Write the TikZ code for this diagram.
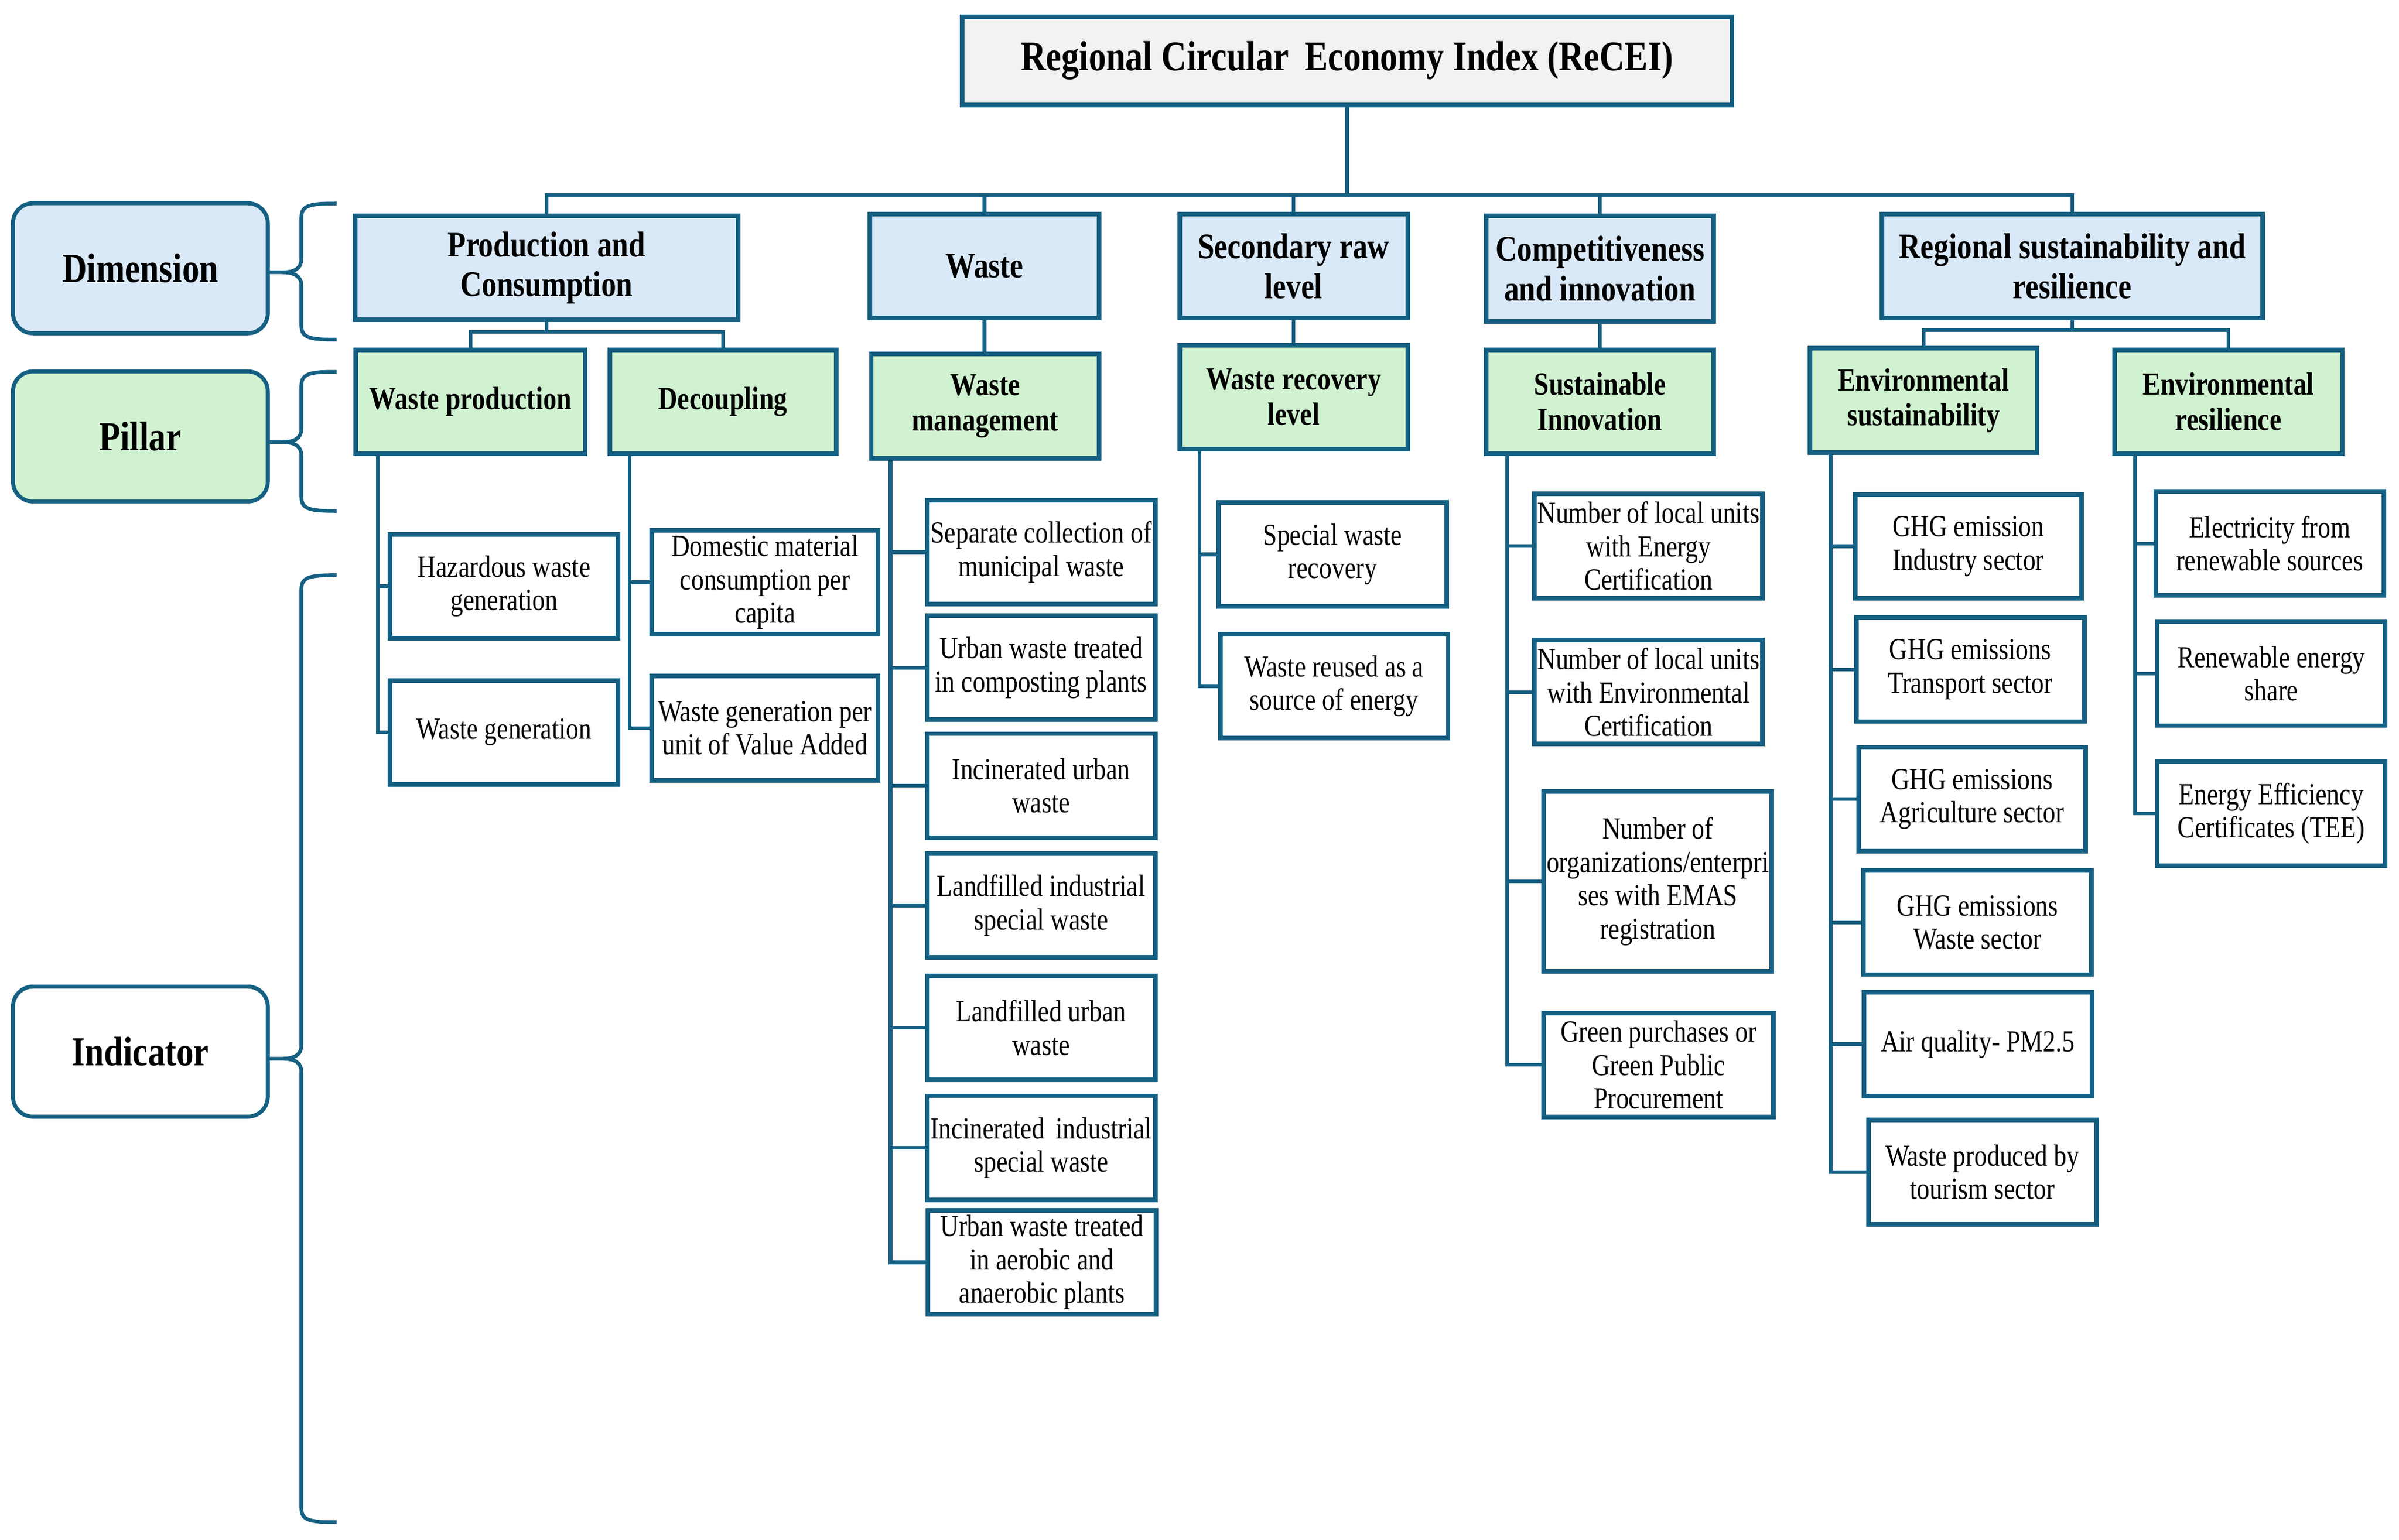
\documentclass[tikz,border=0pt]{standalone}
\usepackage{fontspec}
\setmainfont{Liberation Serif}[FakeStretch=0.83]
\definecolor{bd}{HTML}{156082}
\definecolor{dimfill}{HTML}{DAE9F8}
\definecolor{pilfill}{HTML}{D0F2D0}
\definecolor{titfill}{HTML}{F2F2F2}
\tikzset{
 base/.style={draw=bd, line width=3pt, inner sep=1pt, align=center, text=black},
 titlebox/.style={base, fill=titfill, font=\fontsize{27.5}{30}\selectfont\bfseries},
 dimbox/.style={base, fill=dimfill, font=\fontsize{23.5}{26}\selectfont\bfseries},
 pilbox/.style={base, fill=pilfill, font=\fontsize{21}{23}\selectfont\bfseries},
 indbox/.style={base, fill=white, minimum width=149pt, minimum height=68pt, font=\fontsize{20}{21.8}\selectfont},
 lblbox/.style={draw=bd, line width=2.6pt, rounded corners=13pt, align=center, minimum width=166.5pt, minimum height=85pt, font=\fontsize{27}{30}\selectfont\bfseries},
 conn/.style={draw=bd, line width=2.4pt},
}
\newcommand\mybrace[3]{%
 \draw[conn] (220,#1) .. controls (203,#1) and (197,{#1+1}) .. (197,{#1+9})
  -- (197,{#2-9}) .. controls (197,{#2-2}) and (192,#2) .. (184,#2) -- (176,#2)
  -- (184,#2) .. controls (192,#2) and (197,{#2+2}) .. (197,{#2+9})
  -- (197,{#3-9}) .. controls (197,{#3-1}) and (203,#3) .. (220,#3);}
\begin{document}
\begin{tikzpicture}[x=1pt,y=-1pt]
\useasboundingbox (0,0) rectangle (1568,1006.3);
% left labels
\node[lblbox, fill=dimfill] (dimlbl) at (91.75,175.35) {Dimension};
\node[lblbox, fill=pilfill] (pillbl) at (91.75,285.3) {Pillar};
\node[lblbox, fill=white] (indlbl) at (91.75,687.4) {Indicator};
\mybrace{133}{178}{222}
\mybrace{243}{289}{334}
\mybrace{376}{692}{995}
% title
\node[titlebox, minimum width=503pt, minimum height=57.5pt] (title) at (880.5,39.75) {Regional Circular\, Economy Index (ReCEI)};
% dimensions
\node[dimbox, minimum width=250.5pt, minimum height=68pt] (pc) at (357.25,175) {Production and\\Consumption};
\node[dimbox, minimum width=150pt, minimum height=68pt] (dw) at (643.5,174) {Waste};
\node[dimbox, minimum width=149pt, minimum height=68pt] (ds) at (845.5,174) {Secondary raw\\level};
\node[dimbox, minimum width=148.5pt, minimum height=69pt] (dc) at (1045.75,175.5) {Competitiveness\\and innovation};
\node[dimbox, minimum width=249pt, minimum height=68pt] (dr) at (1354.5,174) {Regional sustainability and\\resilience};
% pillars
\node[pilbox, minimum width=150pt, minimum height=68pt] (wp) at (307.5,262.6) {Waste production};
\node[pilbox, minimum width=148pt, minimum height=68pt] (dec) at (472.5,262.6) {Decoupling};
\node[pilbox, minimum width=149pt, minimum height=68.4pt] (wm) at (644,265.6) {Waste\\management};
\node[pilbox, minimum width=149pt, minimum height=67.7pt] (wrl) at (845.5,259.6) {Waste recovery\\level};
\node[pilbox, minimum width=148.5pt, minimum height=68pt] (si) at (1045.75,262.6) {Sustainable\\Innovation};
\node[pilbox, minimum width=148.5pt, minimum height=68.5pt] (es) at (1257.25,261.75) {Environmental\\sustainability};
\node[pilbox, minimum width=149pt, minimum height=68pt] (er) at (1456.5,262.6) {Environmental\\resilience};
% indicators
\node[indbox] (i1) at (329.5,383.25) {Hazardous waste\\generation};
\node[indbox] (i2) at (329.5,478.75) {Waste generation};
\node[indbox, minimum width=148pt] (i3) at (500,380.6) {Domestic material\\consumption per\\capita};
\node[indbox, minimum width=148pt] (i4) at (500,476) {Waste generation per\\unit of Value Added};
\node[indbox] (i5) at (680.5,360.85) {Separate collection of\\municipal waste};
\node[indbox] (i6) at (680.5,436.45) {Urban waste treated\\in composting plants};
\node[indbox] (i7) at (680.5,513.6) {Incinerated urban\\waste};
\node[indbox] (i8) at (680.5,591.9) {Landfilled industrial\\special waste};
\node[indbox] (i9) at (680.5,671.8) {Landfilled urban\\waste};
\node[indbox] (i10) at (680.5,750.3) {Incinerated\, industrial\\special waste};
\node[indbox] (i11) at (681,825.2) {Urban waste treated\\in aerobic and\\anaerobic plants};
\node[indbox] (i12) at (871,362.4) {Special waste\\recovery};
\node[indbox] (i13) at (872,448.55) {Waste reused as a\\source of energy};
\node[indbox] (i14) at (1077.5,356.9) {Number of local units\\with Energy\\Certification};
\node[indbox] (i15) at (1077.5,452.4) {Number of local units\\with Environmental\\Certification};
\node[indbox, minimum height=117.3pt] (i16) at (1083.5,576.15) {Number of\\organizations/enterpri\\ses with EMAS\\registration};
\node[indbox, minimum width=150pt] (i17) at (1084,696.1) {Green purchases or\\Green Public\\Procurement};
\node[indbox, minimum width=148pt] (i18) at (1286.5,357.1) {GHG emission\\Industry sector};
\node[indbox] (i19) at (1287.75,437.65) {GHG emissions\\Transport sector};
\node[indbox, minimum width=148pt] (i20) at (1289,522.35) {GHG emissions\\Agriculture sector};
\node[indbox] (i21) at (1292.5,603) {GHG emissions\\Waste sector};
\node[indbox] (i22) at (1292.75,682.5) {Air quality- PM2.5};
\node[indbox] (i23) at (1295.75,766.15) {Waste produced by\\tourism sector};
\node[indbox] (i24) at (1483.5,355.3) {Electricity from\\renewable sources};
\node[indbox] (i25) at (1484.5,440.3) {Renewable energy\\share};
\node[indbox] (i26) at (1484.5,531.75) {Energy Efficiency\\Certificates (TEE)};
% top connectors
\foreach \d in {pc,dw,ds,dc,dr} \draw[conn] (title.south) -- ++(0,57.5) -| (\d.north);
\foreach \p in {wp,dec} \draw[conn] (pc.south) -- ++(0,6.5) -| (\p.north);
\foreach \p in {es,er} \draw[conn] (dr.south) -- ++(0,6.4) -| (\p.north);
\draw[conn] (dw.south) -- (dw.south |- wm.north);
\draw[conn] (ds.south) -- (ds.south |- wrl.north);
\draw[conn] (dc.south) -- (dc.south |- si.north);
% indicator connectors
\foreach \i in {i1,i2} \draw[conn] ([xshift=16pt]wp.south west) |- (\i.west);
\foreach \i in {i3,i4} \draw[conn] ([xshift=14.5pt]dec.south west) |- (\i.west);
\foreach \i in {i5,i6,i7,i8,i9,i10,i11} \draw[conn] ([xshift=14pt]wm.south west) |- (\i.west);
\foreach \i in {i12,i13} \draw[conn] ([xshift=14.5pt]wrl.south west) |- (\i.west);
\foreach \i in {i14,i15,i16,i17} \draw[conn] ([xshift=15pt]si.south west) |- (\i.west);
\foreach \i in {i18,i19,i20,i21,i22,i23} \draw[conn] ([xshift=15pt]es.south west) |- (\i.west);
\foreach \i in {i24,i25,i26} \draw[conn] ([xshift=15pt]er.south west) |- (\i.west);
\end{tikzpicture}
\end{document}
